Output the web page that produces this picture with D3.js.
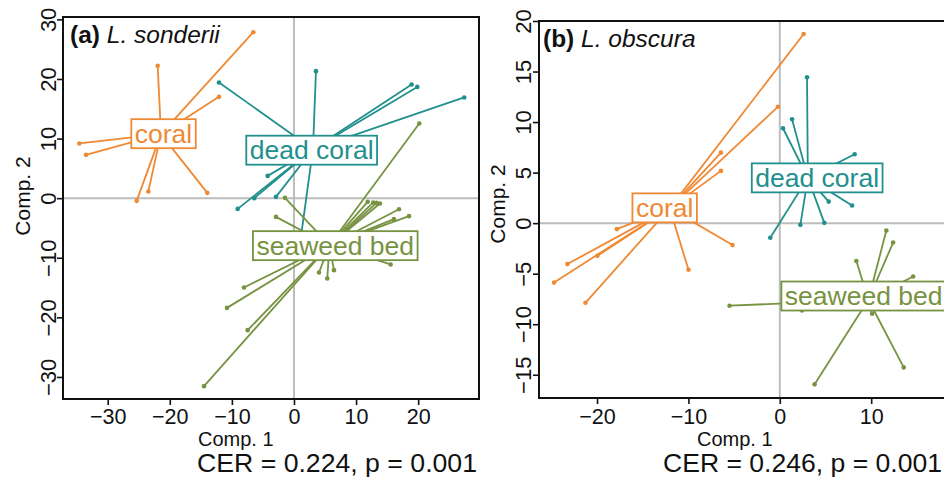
<!DOCTYPE html>
<html><head><meta charset="utf-8">
<script src="https://cdn.jsdelivr.net/npm/d3@7"></script>
<style>html,body{margin:0;padding:0;background:#fff;overflow:hidden}</style>
</head><body><svg id="chart" width="944" height="477"></svg>
<script>
// ---------- data ----------
const groupNames = ["coral", "dead coral", "seaweed bed"];
const groupColors = ["#EF8933", "#21908D", "#779342"];

// (a) L. sonderii  [Comp.1, Comp.2]
const sonderiiCoral = [[-34.57,9.18],[-33.49,7.27],[-21.95,22.2],[-12.08,17.0],[-6.55,27.85],[-23.46,1.12],[-25.33,-0.45],[-13.96,0.89]];
const sonderiiDeadCoral = [[-12.08,19.41],[3.54,21.31],[18.95,19.08],[19.86,18.67],[27.42,16.9],[-4.24,3.74],[-9.07,-1.8],[-6.39,0.0],[-2.9,0.22],[1.13,-6.4]];
const sonderiiSeaweed = [[20.18,12.53],[-1.45,0.05],[-2.9,-3.14],[11.87,-0.62],[12.77,-0.72],[13.32,-0.79],[13.85,-0.89],[16.91,-1.85],[18.52,-3.02],[16.1,-3.52],[15.57,-11.12],[4.03,-12.47],[5.36,-13.47],[6.44,-12.08],[-8.05,-14.98],[-10.79,-18.41],[-7.46,-22.15],[-14.49,-31.54]];
const sonderiiCentroids = [[-21.42,10.74],[3.06,8.22],[5.72,-7.89]];
const sonderiiLabelPos = [[-21.01,10.82],[2.85,8.05],[6.65,-7.97]];
const sonderiiXLim = [-37.2, 29.8];
const sonderiiYLim = [-33.7, 30.4];
const sonderiiXTicks = [-30,-20,-10,0,10,20];
const sonderiiYTicks = [-30,-20,-10,0,10,20,30];

// (b) L. obscura
const obscuraCoral = [[2.61,18.71],[-0.2,11.52],[-6.44,6.98],[-6.44,5.17],[-5.17,-2.17],[-17.83,-0.59],[-23.24,-4.05],[-19.96,-3.23],[-24.7,-5.87],[-21.27,-7.88],[-9.99,-4.61]];
const obscuraDeadCoral = [[2.98,14.43],[1.34,10.28],[0.35,9.39],[8.19,6.82],[5.35,2.13],[7.91,1.74],[4.87,0.03],[2.25,-0.17],[-1.04,-1.45]];
const obscuraSeaweed = [[11.66,-0.73],[12.4,-1.92],[8.38,-3.75],[14.59,-5.28],[-5.5,-8.17],[2.43,-8.64],[10.1,-8.96],[13.56,-14.27],[3.81,-15.95]];
const obscuraCentroids = [[-12.05,1.46],[3.07,4.48],[9.69,-7.58]];
const obscuraLabelPos = [[-12.6,1.51],[4.09,4.48],[9.18,-7.21]];
const obscuraXLim = [-26.35, 19.5];
const obscuraYLim = [-17.3, 20.0];
const obscuraXTicks = [-20,-10,0,10];
const obscuraYTicks = [-15,-10,-5,0,5,10,15,20];

const panelTags = ["(a)", "(b)"];
const speciesNames = ["L. sonderii", "L. obscura"];
const statTexts = ["CER = 0.224, p = 0.001", "CER = 0.246, p = 0.001"];

// ---------- layout ----------
const FONT = "'Liberation Sans', Arial, Helvetica, sans-serif";
const panels = [
  { groups:[sonderiiCoral, sonderiiDeadCoral, sonderiiSeaweed], cents:sonderiiCentroids, labs:sonderiiLabelPos,
    xLim:sonderiiXLim, yLim:sonderiiYLim, xTicks:sonderiiXTicks, yTicks:sonderiiYTicks,
    box:{l:63, r:479, t:17, b:399}, titleX:70, titleY:43, yTickX:56, yTitleX:30, yTitleY:196,
    xTitleX:198, statX:197, statW:280 },
  { groups:[obscuraCoral, obscuraDeadCoral, obscuraSeaweed], cents:obscuraCentroids, labs:obscuraLabelPos,
    xLim:obscuraXLim, yLim:obscuraYLim, xTicks:obscuraXTicks, yTicks:obscuraYTicks,
    box:{l:539, r:958, t:21, b:398}, titleX:543, titleY:47, yTickX:531, yTitleX:505, yTitleY:204,
    xTitleX:697, statX:663, statW:279 }
];

const svg = d3.select("#chart");
svg.append("rect").attr("width",944).attr("height",477).attr("fill","#fff");

panels.forEach((p, pi) => {
  const x = d3.scaleLinear().domain(p.xLim).range([p.box.l, p.box.r]);
  const y = d3.scaleLinear().domain(p.yLim).range([p.box.b, p.box.t]);
  const g = svg.append("g");
  const clipId = "clip" + pi;
  svg.append("clipPath").attr("id", clipId).append("rect")
    .attr("x", p.box.l).attr("y", p.box.t).attr("width", p.box.r - p.box.l).attr("height", p.box.b - p.box.t);
  const inner = g.append("g").attr("clip-path", `url(#${clipId})`);

  // zero reference lines
  inner.append("line").attr("x1", p.box.l).attr("x2", p.box.r).attr("y1", y(0)).attr("y2", y(0))
    .attr("stroke", "#BDBDBD").attr("stroke-width", 2);
  inner.append("line").attr("x1", x(0)).attr("x2", x(0)).attr("y1", p.box.t).attr("y2", p.box.b)
    .attr("stroke", "#BDBDBD").attr("stroke-width", 2);

  // spiders
  p.groups.forEach((pts, gi) => {
    const c = p.cents[gi];
    const gg = inner.append("g");
    gg.selectAll("line").data(pts).join("line")
      .attr("x1", x(c[0])).attr("y1", y(c[1]))
      .attr("x2", d => x(d[0])).attr("y2", d => y(d[1]))
      .attr("stroke", groupColors[gi]).attr("stroke-width", 1.8);
    gg.selectAll("circle").data(pts).join("circle")
      .attr("cx", d => x(d[0])).attr("cy", d => y(d[1])).attr("r", 2.3)
      .attr("fill", groupColors[gi]);
  });

  // labels
  p.labs.forEach((lp, gi) => {
    const lg = inner.append("g");
    const t = lg.append("text").attr("x", x(lp[0])).attr("y", y(lp[1]) + 9)
      .attr("text-anchor", "middle").attr("font-family", FONT).attr("font-size", 26.5)
      .attr("fill", groupColors[gi]).text(groupNames[gi]);
    const bb = t.node().getBBox();
    lg.insert("rect", "text").attr("x", bb.x - 3.5).attr("y", y(lp[1]) - 14.5)
      .attr("width", bb.width + 7).attr("height", 29)
      .attr("fill", "#fff").attr("stroke", groupColors[gi]).attr("stroke-width", 1.8);
  });

  // frame
  g.append("rect").attr("x", p.box.l).attr("y", p.box.t)
    .attr("width", p.box.r - p.box.l).attr("height", p.box.b - p.box.t)
    .attr("fill", "none").attr("stroke", "#111").attr("stroke-width", 2);

  // axes
  const xAxis = d3.axisBottom(x).tickValues(p.xTicks).tickSize(6).tickPadding(4);
  const xa = g.append("g").attr("transform", `translate(0,${p.box.b})`).call(xAxis);
  xa.select(".domain").remove();
  xa.selectAll(".tick line").attr("stroke", "#111").attr("stroke-width", 1.6);
  xa.selectAll(".tick text").attr("font-family", FONT).attr("font-size", 21.5).attr("fill", "#111")
    .attr("dy", null).attr("y", 423.5 - p.box.b);

  const yAxis = d3.axisLeft(y).tickValues(p.yTicks).tickSize(6);
  const ya = g.append("g").attr("transform", `translate(${p.box.l},0)`).call(yAxis);
  ya.select(".domain").remove();
  ya.selectAll(".tick line").attr("stroke", "#111").attr("stroke-width", 1.6);
  ya.selectAll(".tick text").attr("font-family", FONT).attr("font-size", 22).attr("fill", "#111")
    .attr("x", null).attr("dy", null).attr("text-anchor", "middle")
    .attr("transform", `translate(${p.yTickX - p.box.l},0) rotate(-90)`);

  // titles
  const tt = g.append("text").attr("x", p.titleX).attr("y", p.titleY)
    .attr("font-family", FONT).attr("font-size", 24.5).attr("fill", "#111");
  tt.append("tspan").attr("font-weight", "bold").text(panelTags[pi]);
  tt.append("tspan").attr("font-style", "italic").text(" " + speciesNames[pi]);

  g.append("text").attr("x", p.xTitleX).attr("y", 446.2)
    .attr("font-family", FONT).attr("font-size", 20).attr("fill", "#111").text("Comp. 1");
  g.append("text").attr("transform", `translate(${p.yTitleX},${p.yTitleY}) rotate(-90)`)
    .attr("text-anchor", "middle")
    .attr("font-family", FONT).attr("font-size", 21).attr("fill", "#111").text("Comp. 2");
  g.append("text").attr("x", p.statX).attr("y", 472)
    .attr("textLength", p.statW).attr("lengthAdjust", "spacingAndGlyphs")
    .attr("font-family", FONT).attr("font-size", 25.5).attr("fill", "#111").text(statTexts[pi]);
});
</script></body></html>
